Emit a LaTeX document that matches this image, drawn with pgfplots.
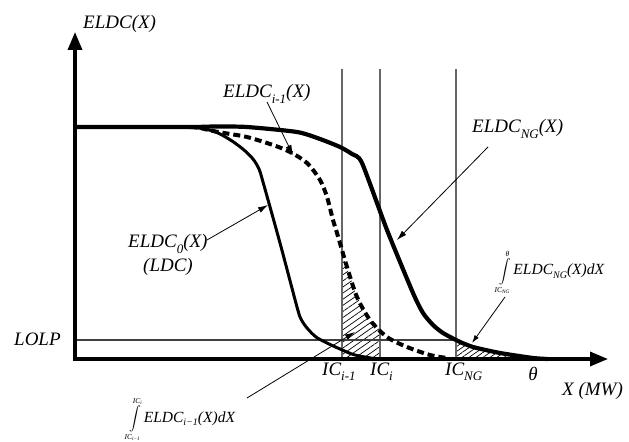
\documentclass[border=0pt]{standalone}
\usepackage{exscale}
\usepackage{fontspec}
\setmainfont{Liberation Serif}
\usepackage{pgfplots}
\pgfplotsset{compat=1.18}
\usetikzlibrary{arrows.meta,patterns.meta}

\newcommand{\lf}{\fontsize{19bp}{22bp}\selectfont\itshape}
\newcommand{\sub}[1]{\raisebox{-0.28em}{\fontsize{13bp}{13bp}\selectfont\itshape #1}}
\newcommand{\subs}[1]{\raisebox{-0.25em}{\fontsize{10bp}{11bp}\selectfont\itshape #1}}
\newcommand{\limf}{\fontsize{7.5bp}{7.5bp}\selectfont\itshape}
\newcommand{\intl}[3]{{\fontsize{13bp}{14bp}\selectfont$\displaystyle\int\limits_{\mbox{\limf #1}}^{\mbox{\limf #2}}$}\hspace{1bp}{\fontsize{15.5bp}{18bp}\selectfont\itshape #3}}

\begin{document}
\begin{tikzpicture}
\begin{axis}[width=629bp,height=441bp,scale only axis,
  xmin=0,xmax=629,ymin=0,ymax=441,hide axis,clip=false]
\addplot[draw=none] coordinates {(0,0) (629,441)};
% hatched areas
\addplot[draw=none,pattern={Lines[angle=35,distance=5bp,line width=0.7bp]}] coordinates
  {(342,82) (342,186) (347,174) (357,144) (370,121) (380,111) (380,82)};
\addplot[draw=none,pattern={Lines[angle=35,distance=4bp,line width=0.7bp]}] coordinates
  {(456,82) (456,101) (458,100) (473,94) (500,88) (533,83) (548,82)};
% vertical capacity lines
\addplot[color=black!60,line width=1.3bp] coordinates {(342,82) (342,372)};
\addplot[color=black!60,line width=1.3bp] coordinates {(380,82) (380,372)};
\addplot[color=black!60,line width=1.3bp] coordinates {(456,82) (456,372)};
% LOLP line
\addplot[color=black!75,line width=1.1bp] coordinates {(75,101) (456,101)};
% axes
\addplot[line width=3.3bp,{Triangle[length=18bp,width=14bp]}-{Triangle[length=18bp,width=14bp]}]
  coordinates {(75,409) (75,82) (608,82)};
% ELDC_0
\addplot[line width=3bp,smooth,tension=0.5] coordinates
  {(190,314) (205,312) (218,308) (232,300) (244,291) (253,282) (259,272) (263,259)
   (280,198) (297,134) (301,122) (307,113) (316,104) (327,98) (340,92) (355,86) (377,82)};
% ELDC_{i-1}
\addplot[line width=4bp,dash pattern=on 7bp off 4bp,smooth,tension=0.5] coordinates
  {(190,314) (200,313) (213,310) (230,307) (247,304) (273,296) (290,289) (307,278) (320,261)
   (327,244) (333,221) (337,208) (347,174) (357,144) (370,121) (387,104) (407,94) (430,86) (447,83)};
% ELDC_NG
\addplot[line width=4.2bp,smooth,tension=0.4] coordinates
  {(75,314) (190,314) (215,314.5) (247,314) (297,309) (320,302) (340,294) (352,287) (362,278)
   (387,211) (413,148) (423,128) (433,116) (443,108) (458,100) (473,94) (500,88) (533,83) (548,82)};
% annotation arrows
\addplot[line width=0.8bp,-{Latex[length=10bp,width=6bp]}] coordinates {(267,339) (293,286)};
\addplot[line width=0.8bp,-{Latex[length=10bp,width=6bp]}] coordinates {(488,294) (397,201)};
\addplot[line width=0.8bp,-{Latex[length=10bp,width=6bp]}] coordinates {(207,201) (268,236)};
\addplot[line width=0.8bp,-{Latex[length=10bp,width=6bp]}] coordinates {(247,43) (355,109)};
\addplot[line width=0.8bp,-{Latex[length=8bp,width=5bp]}] coordinates {(505,144) (472,98)};
% labels
\node[anchor=base west,inner sep=0] at (axis cs:83,412) {\lf ELDC(X)};
\node[anchor=base west,inner sep=0] at (axis cs:14,95) {\lf LOLP};
\node[anchor=base west,inner sep=0] at (axis cs:223,343) {\lf ELDC\sub{i-1}(X)};
\node[anchor=base west,inner sep=0] at (axis cs:472,308) {\lf ELDC\sub{NG}(X)};
\node[anchor=base west,inner sep=0] at (axis cs:128,193) {\lf ELDC\sub{0}(X)};
\node[anchor=base west,inner sep=0] at (axis cs:143,169) {\lf (LDC)};
\node[anchor=base west,inner sep=0] at (axis cs:322,66) {\lf IC\sub{i-1}};
\node[anchor=base west,inner sep=0] at (axis cs:370,66) {\lf IC\sub{i}};
\node[anchor=base west,inner sep=0] at (axis cs:445,66) {\lf IC\sub{NG}};
\node[anchor=base,inner sep=0] at (axis cs:533,61) {\lf θ};
\node[anchor=base west,inner sep=0] at (axis cs:562,46) {\lf X (MW)};
\node[anchor=base west,inner sep=0] at (axis cs:127,19)
  {\intl{IC\textsubscript{i−1}}{IC\textsubscript{i}}{ELDC\subs{i−1}(X)dX}};
\node[anchor=base west,inner sep=0] at (axis cs:497,166)
  {\intl{IC\textsubscript{NG}}{θ}{ELDC\subs{NG}(X)dX}};
\end{axis}
\end{tikzpicture}
\end{document}
